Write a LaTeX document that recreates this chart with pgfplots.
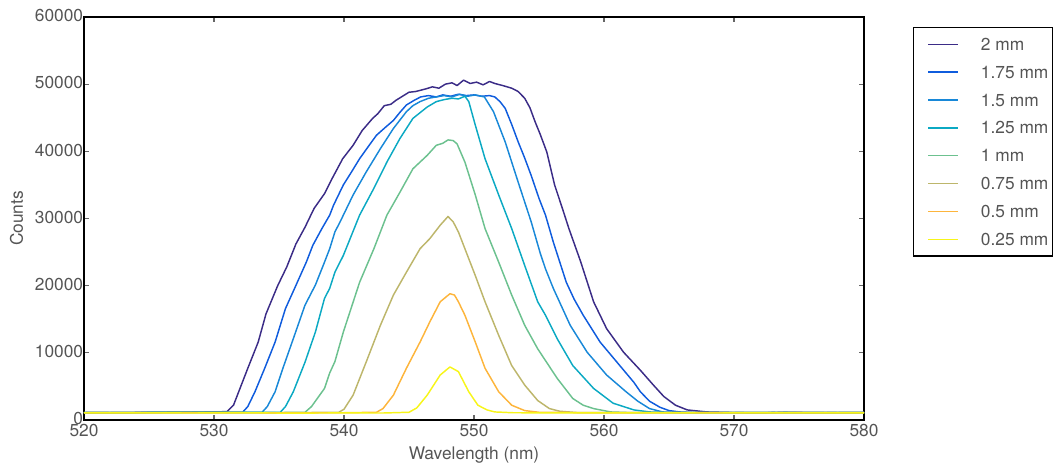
\documentclass[border=0pt]{standalone}
\usepackage{fontspec}
\setmainfont{TeX Gyre Heros}
\usepackage{pgfplots}
\pgfplotsset{compat=1.18}
\definecolor{txt}{RGB}{85,85,85}
\definecolor{cA}{HTML}{3B2C87}
\definecolor{cB}{HTML}{0F5CDD}
\definecolor{cC}{HTML}{1888D8}
\definecolor{cD}{HTML}{0BA9C3}
\definecolor{cE}{HTML}{6CC18F}
\definecolor{cF}{HTML}{BDB66B}
\definecolor{cG}{HTML}{FDB53C}
\definecolor{cH}{HTML}{F7F51A}
\newcommand{\fs}{\fontsize{13}{15}\selectfont}
\begin{document}
\begin{tikzpicture}
\begin{axis}[
  at={(0,0)}, anchor=south west, scale only axis,
  width=585pt, height=302.25pt,
  xmin=520, xmax=580, ymin=0, ymax=60000,
  xtick={520,530,...,580}, ytick={0,10000,...,60000},
  scaled y ticks=false,
  /pgf/number format/.cd, 1000 sep={}, assume math mode=true, /pgfplots/.cd,
  tick align=inside, major tick length=4pt,
  tick style={black!60, line width=0.8pt},
  axis line style={black, line width=0.9pt},
  minor tick num=0,
  tick label style={font=\fs, text=txt},
  yticklabel style={inner xsep=0.5pt, yshift=1pt},
  xticklabel style={yshift=0.5pt},
  xlabel={Wavelength (nm)}, ylabel={Counts},
  every axis x label/.style={at={(axis description cs:0.5,-0.0868)}, anchor=center, font=\fs, text=txt},
  every axis y label/.style={at={(axis description cs:-0.0863,0.5)}, rotate=90, anchor=center, font=\fs, text=txt},
  legend style={at={(1.0628,0.975)}, anchor=north west, draw=black, line width=0.8pt,
    font=\fs, text=txt, inner xsep=3pt, inner ysep=8pt, row sep=11.9pt,
    nodes={inner sep=0pt, text height=9pt, text depth=0pt},
    column sep=16.5pt},
  legend cell align=left,
  legend image code/.code={\path (-7.5pt,0pt); \draw[#1, line width=1.1pt] (0pt,0pt) -- (22.5pt,0pt);},
  every axis plot/.append style={line width=1.1pt, line join=round},
]
% 2 mm
\addplot[cA] coordinates {(520,1100)(522,1080)(524,1120)(526,1150)(528,1180)(530,1200)(531.0,1250)(531.5,2200)(531.9,4200)(532.6,7700)(533.4,11600)(534.0,15800)(534.9,20000)(535.6,22800)(536.3,26200)(537.0,28700)(537.7,31500)(538.5,33700)(539.1,36000)(539.9,38900)(540.7,40900)(541.4,43100)(542.2,44900)(542.6,45600)(543.1,46800)(543.6,47000)(544.0,47600)(544.5,48200)(545.0,48800)(545.5,48900)(546.3,49300)(546.8,49600)(547.3,49400)(547.8,50000)(548.3,50200)(548.7,49800)(549.2,50600)(549.7,50100)(550.2,50300)(550.7,49900)(551.2,50400)(551.6,50100)(552.2,49800)(552.9,49400)(553.4,48900)(553.9,47900)(554.3,46500)(554.7,44400)(555.1,42500)(555.6,39900)(556.2,35000)(556.8,31500)(557.3,28500)(558.2,23600)(559.2,17600)(560.2,13600)(561.5,10100)(562.8,7400)(563.8,5200)(564.6,3500)(565.5,2200)(566.4,1500)(567.9,1200)(570,1100)(572,1050)(574,1150)(576,1100)(578,1080)(580,1120)};
% 1.75 mm
\addplot[cB] coordinates {(520,1080)(523,1100)(526,1140)(529,1160)(531,1150)(532.2,1150)(532.6,2000)(533.15,4200)(533.9,7700)(534.7,11600)(535.5,16600)(536.2,19600)(537.1,23500)(537.6,26000)(538.3,28500)(538.9,30500)(539.2,32000)(539.95,35000)(540.6,37000)(541.2,38900)(541.9,40800)(542.5,42400)(543.2,43600)(543.8,44600)(544.3,45800)(544.8,46900)(545.4,47600)(545.9,48100)(546.5,48300)(547.1,48100)(547.6,48400)(548.2,48200)(548.8,48500)(549.4,48300)(550.0,48400)(550.6,48200)(551.2,48300)(551.6,48100)(552.0,47400)(552.4,46400)(552.9,44000)(553.4,41400)(553.9,39000)(554.4,36400)(555.0,33000)(555.5,30500)(556.1,26500)(557.1,20500)(557.7,18000)(558.4,15600)(559.7,11600)(561.0,8600)(562.3,5600)(562.8,4200)(563.5,2800)(564.3,1900)(565.0,1400)(565.8,1200)(567,1100)(570,1080)(573,1120)(576,1090)(580,1100)};
% 1.5 mm
\addplot[cC] coordinates {(520,1100)(523,1090)(526,1130)(529,1150)(532,1140)(533.7,1150)(534.1,2000)(534.7,4200)(535.3,7700)(536.1,12100)(537.0,17100)(537.8,20100)(538.5,23500)(538.9,25500)(539.3,28000)(539.7,29500)(540.7,33500)(541.7,36900)(542.8,40400)(543.8,43400)(544.8,45900)(545.3,46800)(545.85,47400)(546.5,47900)(547.1,48100)(547.7,48300)(548.3,48100)(548.9,48500)(549.5,48200)(550.1,48400)(550.8,48100)(551.5,45900)(552.4,41400)(553.4,35400)(554.4,29500)(555.1,24800)(555.5,22500)(556.1,19600)(557.4,14100)(558.7,10100)(560.2,6700)(561.7,4200)(562.6,2800)(563.5,1700)(564.5,1200)(566,1100)(570,1090)(574,1120)(577,1080)(580,1100)};
% 1.25 mm
\addplot[cD] coordinates {(520,1090)(524,1110)(528,1150)(532,1130)(535.1,1150)(535.5,2000)(536.1,4200)(537.0,8600)(537.8,13100)(538.5,18100)(538.9,19600)(539.3,22000)(539.95,24500)(541.2,30500)(542.3,34500)(543.3,38400)(544.3,41900)(545.3,44900)(546.4,46600)(547.1,47400)(547.7,47700)(548.3,47900)(548.8,47800)(549.3,48200)(549.6,47400)(550.1,43900)(550.85,38900)(551.9,33500)(552.9,28500)(553.9,23000)(554.9,17600)(555.5,15600)(556.4,12100)(557.6,8100)(559.2,4700)(560.7,2500)(562.3,1500)(563.5,1200)(565,1100)(570,1110)(575,1080)(580,1100)};
% 1 mm
\addplot[cE] coordinates {(520,1100)(524,1090)(528,1140)(532,1120)(535,1110)(537.0,1150)(537.5,2000)(538.5,4700)(538.9,7000)(539.3,8700)(539.95,13100)(541.2,20500)(542.3,25500)(543.3,30500)(544.3,33900)(545.3,37400)(546.4,39400)(547.1,40900)(547.6,41200)(548.0,41700)(548.4,41600)(548.7,41100)(549.3,38400)(550.1,33500)(550.85,28500)(551.9,23500)(552.9,18600)(553.9,14100)(554.9,10600)(556.4,6200)(557.6,3200)(558.4,2200)(559.2,1700)(560.5,1200)(562,1100)(566,1090)(570,1110)(575,1090)(580,1100)};
% 0.75 mm
\addplot[cF] coordinates {(520,1090)(525,1110)(530,1100)(535,1080)(539.6,1150)(540.0,1600)(540.7,3700)(541.7,8600)(542.8,14100)(543.8,18600)(544.8,22000)(545.85,25500)(546.6,27000)(547.4,29000)(548.0,30300)(548.4,29500)(548.8,28000)(549.3,25500)(550.1,21500)(550.85,17600)(551.9,12600)(552.9,8100)(553.9,5200)(554.9,2900)(555.8,1700)(556.6,1300)(558,1100)(563,1090)(568,1110)(574,1090)(580,1100)};
% 0.5 mm
\addplot[cG] coordinates {(520,1080)(525,1100)(530,1090)(535,1070)(540,1080)(542.5,1150)(543.0,1700)(543.8,3700)(544.8,7700)(545.85,11600)(546.6,14600)(547.4,17600)(548.15,18800)(548.5,18600)(548.8,17600)(549.3,15600)(550.1,11600)(550.85,7700)(551.9,4200)(552.9,2200)(553.9,1400)(555,1150)(560,1080)(566,1100)(572,1090)(580,1090)};
% 0.25 mm
\addplot[cH] coordinates {(520,1050)(524,1070)(528,1040)(532,1060)(536,1030)(540,1050)(543,1040)(545.0,1150)(545.6,1800)(546.4,3700)(547.4,6700)(548.15,7900)(548.8,7200)(549.6,4200)(550.3,2200)(551.0,1500)(551.6,1200)(553,1080)(558,1050)(563,1060)(568,1040)(574,1060)(580,1050)};
\legend{2 mm,1.75 mm,1.5 mm,1.25 mm,1 mm,0.75 mm,0.5 mm,0.25 mm}
\end{axis}
\pgfresetboundingbox
\useasboundingbox (-63pt,-34.5pt) rectangle (732pt,315pt);
\end{tikzpicture}
\end{document}
